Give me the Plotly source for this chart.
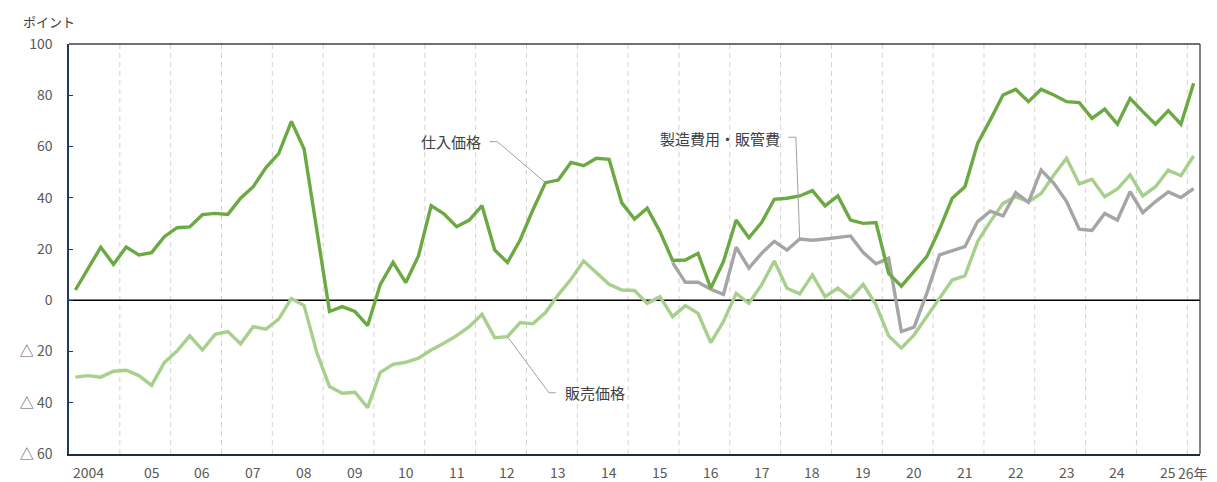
import plotly.graph_objects as go

# ---- data (quarterly, 2004Q1 .. 2026Q1) ----
start_year = 2004
n_periods = 89
periods = [f"{start_year + k // 4}Q{k % 4 + 1}" for k in range(n_periods)]

# 仕入価格
purchase_price = [
    4.0, 12.5, 20.7, 14.0, 20.8, 17.7, 18.6, 24.8, 28.3, 28.6, 33.4, 33.9, 33.5, 39.8, 44.3, 51.8, 57.2, 69.8, 59.0, 27.4, -4.4, -2.5,
    -4.4, -9.9, 6.2, 14.8, 6.9, 17.3, 36.9, 33.7, 28.7, 31.3, 36.9, 19.6, 14.7, 23.5, 35.2, 45.9, 46.9, 53.8, 52.5, 55.4, 55.0, 38.0,
    31.7, 35.9, 26.8, 15.5, 15.7, 18.3, 4.7, 15.1, 31.3, 24.4, 30.3, 39.4, 39.8, 40.7, 42.8, 36.8, 40.7, 31.3, 30.0, 30.3, 10.5, 5.5,
    11.4, 17.0, 27.7, 39.8, 44.3, 61.2, 70.4, 80.1, 82.3, 77.5, 82.3, 80.1, 77.5, 77.1, 71.0, 74.6, 68.7, 78.8, 73.6, 68.7, 74.0, 68.7, 84.7,
]
# 販売価格
selling_price = [
    -30.0, -29.4, -30.0, -27.7, -27.3, -29.4, -33.2, -24.3, -19.8, -13.9, -19.4, -13.3, -12.2, -17.0, -10.3, -11.3, -7.4, 0.7, -2.1, -20.4, -33.7, -36.3,
    -35.9, -41.9, -28.1, -25.0, -24.2, -22.6, -19.4, -16.8, -13.8, -10.3, -5.5, -14.6, -14.2, -8.7, -9.2, -4.8, 2.1, 8.2, 15.3, 10.9, 6.2, 4.0,
    3.8, -1.2, 1.4, -6.4, -2.1, -5.1, -16.5, -8.3, 2.7, -1.2, 6.0, 15.3, 4.7, 2.5, 9.9, 1.4, 4.7, 0.8, 6.2, -1.8, -13.9, -18.7,
    -13.5, -6.4, 0.8, 7.9, 9.5, 22.9, 30.7, 37.8, 40.4, 38.5, 41.7, 48.9, 55.4, 45.4, 47.2, 40.4, 43.4, 48.9, 40.7, 44.3, 50.8, 48.6, 56.3,
]
# 製造費用・販管費 (from 2015Q4)
cost_values = [
    14.7, 7.0, 7.0, 4.3, 2.3, 20.7, 12.5, 18.3, 23.0, 19.6,
    23.9, 23.4, 23.9, 24.4, 25.1, 18.6, 14.2, 16.4, -12.2, -10.5,
    2.7, 17.7, 19.2, 20.9, 30.7, 34.8, 32.9, 42.0, 38.2, 50.8,
    45.6, 38.5, 27.7, 27.2, 33.9, 31.3, 42.4, 34.2, 38.5, 42.3,
    40.1, 43.6,
]
cost = [None] * (n_periods - len(cost_values)) + cost_values

year_labels = ["2004", "05", "06", "07", "08", "09", "10", "11", "12", "13", "14",
               "15", "16", "17", "18", "19", "20", "21", "22", "23", "24", "25"]
last_label = "26年"
y_tick_vals = [100, 80, 60, 40, 20, 0, -20, -40, -60]
y_tick_text = ["100", "80", "60", "40", "20", "0", "△ 20", "△ 40", "△ 60"]

x = list(range(n_periods))

C_DARK = "#6BAA43"
C_LIGHT = "#A8D08D"
C_GRAY = "#A5A5A5"
TXT = "#404040"
JP = "Noto Sans CJK JP, sans-serif"

fig = go.Figure()
fig.add_trace(go.Scatter(x=x, y=selling_price, mode="lines", name="販売価格",
                         line=dict(color=C_LIGHT, width=3.4), hoverinfo="skip",
                         customdata=periods))
fig.add_trace(go.Scatter(x=x, y=cost, mode="lines", name="製造費用・販管費",
                         line=dict(color=C_GRAY, width=3.4), hoverinfo="skip"))
fig.add_trace(go.Scatter(x=x, y=purchase_price, mode="lines", name="仕入価格",
                         line=dict(color=C_DARK, width=3.4), hoverinfo="skip"))

shapes = []
# dashed year separators
for k in range(len(year_labels)):
    xv = 3.5 + 4 * k
    shapes.append(dict(type="line", xref="x", yref="paper", x0=xv, x1=xv, y0=0, y1=1,
                       line=dict(color="#D3D3D3", width=1, dash="5px,4px"), layer="below"))
# zero line
shapes.append(dict(type="line", xref="paper", yref="y", x0=0, x1=1, y0=0, y1=0,
                   line=dict(color="#000000", width=1.5), layer="below"))
# top & right frame
shapes.append(dict(type="line", xref="paper", yref="paper", x0=0, x1=1, y0=1, y1=1,
                   line=dict(color="#404040", width=1.3)))
shapes.append(dict(type="line", xref="paper", yref="paper", x0=1, x1=1, y0=0, y1=1,
                   line=dict(color="#404040", width=1.3)))

# leader lines (anchored on data points)
LC = "#A0A0A0"
i_p = 37
shapes.append(dict(type="path", xref="x", yref="y",
                   path=f"M 32.6 61.9 L 33.2 61.9 L {i_p} {purchase_price[i_p]}",
                   line=dict(color=LC, width=1)))
i_s = 34
shapes.append(dict(type="path", xref="x", yref="y",
                   path=f"M {i_s} {selling_price[i_s]} L 37.27 -36.1 L 37.8 -36.1",
                   line=dict(color=LC, width=1)))
i_c = 57
shapes.append(dict(type="path", xref="x", yref="y",
                   path=f"M 56.1 63.6 L 56.7 63.6 L {i_c} {cost[i_c]}",
                   line=dict(color=LC, width=1)))

annotations = []
annotations.append(dict(x=32.05, y=61.8, xref="x", yref="y", text="仕入価格", showarrow=False,
                        xanchor="right", yanchor="middle", font=dict(family=JP, size=15, color=TXT)))
annotations.append(dict(x=38.35, y=-36.1, xref="x", yref="y", text="販売価格", showarrow=False,
                        xanchor="left", yanchor="middle", font=dict(family=JP, size=15, color=TXT)))
annotations.append(dict(x=55.6, y=63.3, xref="x", yref="y", text="製造費用・販管費", showarrow=False,
                        xanchor="right", yanchor="middle", font=dict(family=JP, size=15, color=TXT)))
# x labels
for k, lab in enumerate(year_labels):
    xv = 1 if k == 0 else 2 + 4 * k
    annotations.append(dict(x=xv, y=0, xref="x", yref="paper", text=lab, showarrow=False,
                            xanchor="center", yanchor="top", yshift=-6,
                            font=dict(family=JP, size=14, color="#595959")))
annotations.append(dict(x=n_periods - 1, y=0, xref="x", yref="paper", text=last_label, showarrow=False,
                        xanchor="center", yanchor="top", yshift=-7, xshift=-1,
                        font=dict(family=JP, size=14, color="#595959")))
# unit label
annotations.append(dict(x=0, y=1, xref="paper", yref="paper", text="ポイント", showarrow=False,
                        xanchor="left", yanchor="bottom", xshift=-48, yshift=11,
                        font=dict(family=JP, size=13, color=TXT)))

# the page body has an 8px default margin: size the figure so the plot area
# lands at x 65..1200, y 44..454 in the 1217x482 window
fig.update_layout(
    width=1209, height=474, autosize=False,
    margin=dict(l=57, r=17, t=36, b=28),
    paper_bgcolor="white", plot_bgcolor="white",
    showlegend=False,
    font=dict(family=JP, size=14, color="#595959"),
    shapes=shapes, annotations=annotations,
)
fig.update_xaxes(range=[-0.5, n_periods - 0.5], showgrid=False, zeroline=False,
                 showticklabels=False, ticks="", showline=True, linecolor="#1F2A44", linewidth=1.5)
fig.update_yaxes(range=[-60, 100], tickvals=y_tick_vals, ticktext=y_tick_text,
                 showgrid=False, zeroline=False, ticks="inside", ticklen=4, tickcolor="#203864",
                 showline=True, linecolor="#203864", linewidth=1.5,
                 ticklabelstandoff=12, tickfont=dict(family=JP, size=14, color="#595959"))

fig.write_html("out.html")
